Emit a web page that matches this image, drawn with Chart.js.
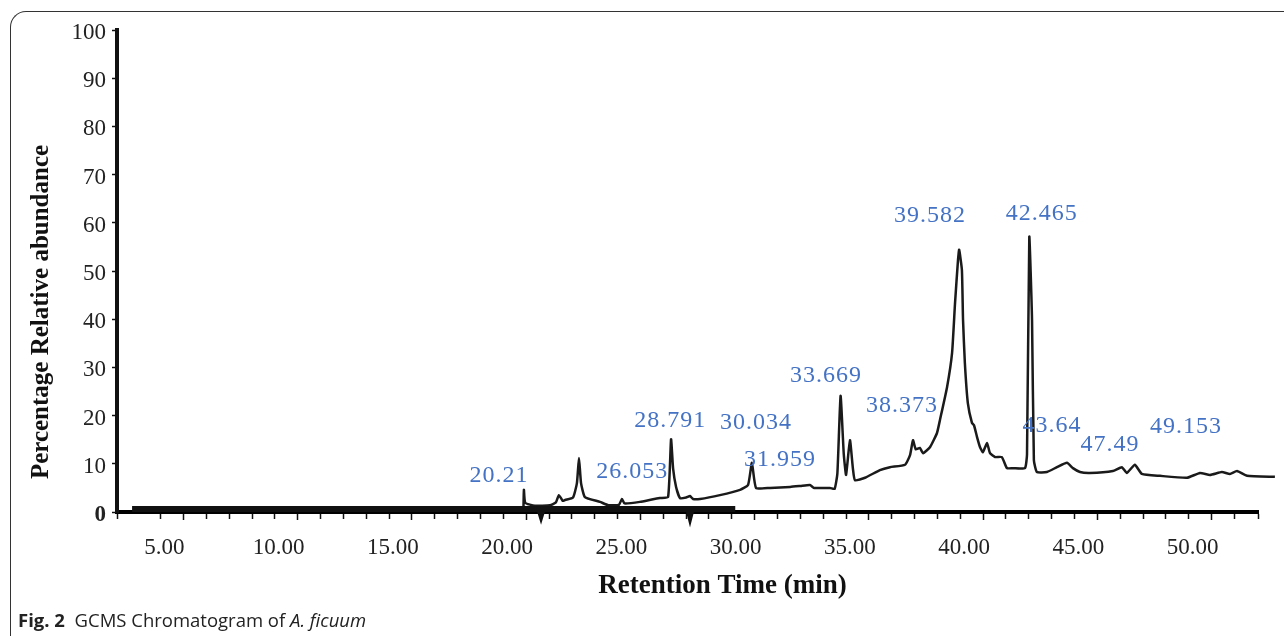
<!DOCTYPE html>
<html>
<head>
<meta charset="utf-8">
<script src="https://cdn.jsdelivr.net/npm/chart.js@4/dist/chart.umd.min.js"></script>
<style>
  html, body { margin: 0; padding: 0; background: #fff; }
  #wrap { position: relative; width: 1284px; height: 636px; overflow: hidden; }
  #frame {
    position: absolute; left: 10px; top: 11px; width: 1400px; height: 700px;
    border-left: 1px solid #333; border-top: 1px solid #333; border-top-left-radius: 16px;
  }
  #chart { position: absolute; left: 0; top: 0; }
  #caption {
    position: absolute; left: 18px; top: 607px;
    font-family: "Open Sans", "Noto Sans", sans-serif; font-size: 18.5px; color: #222;
  }
</style>
</head>
<body>
<div id="wrap">
  <div id="frame"></div>
  <canvas id="chart" width="1284" height="636"></canvas>
  <div id="caption"><b>Fig. 2</b>&nbsp; GCMS Chromatogram of <i>A. ficuum</i></div>
</div>
<script>
// chromatogram trace (retention time in min, relative abundance in %)
const retentionTime = [
  19.88, 19.90, 19.96, 20.38, 21.04, 21.30, 21.43, 21.60, 21.70, 22.05,
  22.22, 22.31, 22.40, 22.57, 23.23, 23.60, 24.06, 24.19, 24.30, 24.98,
  25.50, 25.85, 26.21, 26.34, 26.43, 26.56, 26.73, 27.00, 27.17, 27.30,
  27.61, 28.48, 29.36, 29.71, 29.88, 30.06, 30.67, 31.55, 32.00, 32.42,
  32.60, 33.30, 33.50, 33.62, 33.76, 33.90, 34.00, 34.17, 34.30, 34.39,
  34.83, 35.48, 35.92, 36.58, 36.80, 36.93, 37.05, 37.23, 37.37, 37.68,
  37.98, 38.11, 38.42, 38.64, 38.77, 38.90, 38.95, 39.07, 39.12, 39.20,
  39.33, 39.51, 39.60, 39.73, 39.86, 39.99, 40.17, 40.30, 40.52, 40.82,
  41.04, 41.30, 41.83, 41.92, 42.02, 42.14, 42.22, 42.35, 42.79, 43.23,
  43.67, 43.93, 44.24, 44.67, 45.68, 46.07, 46.29, 46.64, 46.95, 47.74,
  48.92, 49.49, 49.93, 50.45, 50.80, 51.11, 51.55, 52.77
];
const abundance = [
  0.6, 4.6, 1.9, 1.3, 1.4, 2.0, 3.5, 2.3, 2.5, 3.0,
  6.0, 11.2, 6.0, 3.1, 2.1, 1.4, 1.5, 2.7, 1.8, 2.1,
  2.6, 2.9, 3.1, 15.1, 9.0, 5.2, 2.9, 3.0, 3.3, 2.7,
  2.7, 3.5, 4.6, 5.6, 10.2, 5.0, 5.0, 5.2, 5.4, 5.6,
  5.0, 5.0, 4.8, 8.0, 24.1, 12.0, 7.7, 14.9, 9.0, 6.6,
  7.1, 8.7, 9.3, 9.8, 11.8, 14.9, 13.0, 13.3, 12.2, 13.5,
  16.4, 19.1, 25.9, 33.0, 43.4, 52.3, 54.4, 50.2, 39.8, 30.9,
  22.6, 18.5, 18.0, 15.6, 13.5, 12.4, 14.3, 12.2, 11.4, 11.4,
  9.1, 9.1, 9.1, 12.0, 57.1, 39.8, 10.8, 8.3, 8.3, 9.3,
  10.2, 9.1, 8.3, 8.1, 8.5, 9.3, 8.1, 9.8, 7.9, 7.5,
  7.1, 8.1, 7.7, 8.3, 7.9, 8.5, 7.5, 7.3
];

// heavy baseline trace lying on the axis
const baselineTime = [2.75, 20.58, 20.65, 20.72, 27.10, 27.17, 27.24, 29.15];
const baselineLevel = [0.6, 0.6, -0.5, 0.6, 0.6, -0.7, 0.6, 0.6];

// peak annotations
const peakLabels = ['20.21', '26.053', '28.791', '30.034', '31.959', '33.669',
                    '38.373', '39.582', '42.465', '43.64', '47.49', '49.153'];
const peakLabelTime = [18.81, 24.64, 26.30, 30.06, 31.11, 33.12, 36.45, 37.67, 42.57, 43.01, 45.55, 48.88];
const peakLabelLevel = [7.5, 8.3, 18.9, 18.5, 10.8, 28.2, 22.0, 61.4, 61.8, 18.0, 13.9, 17.6];

const xMin = 2.09;
const xMax = 52.03;

const serif = '"Liberation Serif", "Times New Roman", serif';

const peakLabelPlugin = {
  id: 'peakLabels',
  afterDatasetsDraw(chart) {
    const { ctx, scales } = chart;
    ctx.save();
    ctx.font = '24px ' + serif;
    ctx.fillStyle = '#4472C4';
    ctx.textAlign = 'center';
    ctx.textBaseline = 'middle';
    if ('letterSpacing' in ctx) ctx.letterSpacing = '1px';
    peakLabels.forEach((txt, i) => {
      const x = scales.x.getPixelForValue(peakLabelTime[i]);
      const y = scales.y.getPixelForValue(peakLabelLevel[i]);
      ctx.fillText(txt, x, y);
    });
    ctx.restore();
  }
};

const axisTitlePlugin = {
  id: 'axisTitles',
  afterDraw(chart) {
    const { ctx, chartArea } = chart;
    ctx.save();
    ctx.fillStyle = '#111';
    ctx.textAlign = 'center';
    ctx.textBaseline = 'middle';
    ctx.font = 'bold 27px ' + serif;
    ctx.fillText('Retention Time (min)', (chartArea.left + chartArea.right) / 2 + 35, chartArea.bottom + 74);
    ctx.translate(chartArea.left - 75, (chartArea.top + chartArea.bottom) / 2 + 41);
    ctx.rotate(-Math.PI / 2);
    ctx.font = 'bold 25px ' + serif;
    ctx.fillText('Percentage Relative abundance', 0, 0);
    ctx.restore();
  }
};

const isMajor = v => Math.abs(v - Math.round(v / 5) * 5) < 1e-6;

new Chart(document.getElementById('chart'), {
  type: 'line',
  data: {
    datasets: [
      {
        label: 'Baseline',
        data: baselineTime.map((t, i) => ({ x: t, y: baselineLevel[i] })),
        borderColor: '#111',
        borderWidth: 6,
        pointRadius: 0,
        clip: false
      },
      {
        label: 'A. ficuum',
        data: retentionTime.map((t, i) => ({ x: t, y: abundance[i] })),
        borderColor: '#1a1a1a',
        borderWidth: 2.5,
        pointRadius: 0,
        tension: 0.15,
        clip: false
      }
    ]
  },
  options: {
    responsive: false,
    animation: false,
    layout: { padding: { left: 0, top: 30, right: 26, bottom: 0 } },
    plugins: {
      legend: { display: false },
      tooltip: { enabled: false }
    },
    scales: {
      x: {
        type: 'linear',
        min: xMin,
        max: xMax,
        afterFit: scale => { scale.height = 124; },
        border: { display: true, color: '#000', width: 4 },
        grid: {
          drawOnChartArea: false,
          tickLength: 8,
          tickColor: '#111',
          tickWidth: 1.5,
          tickBorderDash: ctx => (ctx.tick && isMajor(ctx.tick.value)) ? [] : [5, 30]
        },
        ticks: {
          stepSize: 1,
          autoSkip: false,
          maxRotation: 0,
          padding: 14,
          labelOffset: -19,
          color: '#222',
          font: { family: serif, size: 23 },
          callback: v => isMajor(v) && v > 0 ? v.toFixed(2) : ''
        }
      },
      y: {
        min: 0,
        max: 100,
        afterFit: scale => { scale.width = 117; },
        border: { display: true, color: '#111', width: 4 },
        grid: {
          drawOnChartArea: false,
          tickLength: 5,
          tickColor: '#111',
          tickWidth: 1.5
        },
        ticks: {
          stepSize: 10,
          padding: 6,
          labelOffset: 3,
          color: '#222',
          font: ctx => ({ family: serif, size: 23, weight: ctx.tick && ctx.tick.value === 0 ? 'bold' : 'normal' })
        }
      }
    }
  },
  plugins: [peakLabelPlugin, axisTitlePlugin]
});
</script>
</body>
</html>
